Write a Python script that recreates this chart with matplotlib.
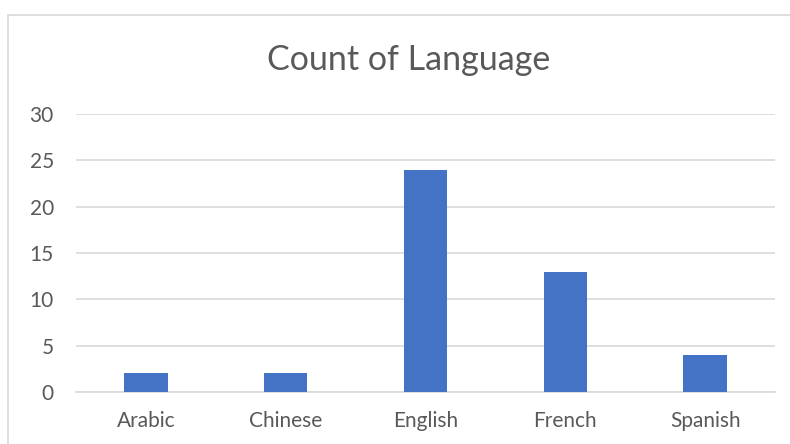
import matplotlib
matplotlib.use("Agg")
import matplotlib.pyplot as plt
from matplotlib.patches import Rectangle

categories = ["Arabic", "Chinese", "English", "French", "Spanish"]
counts = [2, 2, 24, 13, 4]
yticks = [0, 5, 10, 15, 20, 25, 30]

plt.rcParams['font.family'] = ['Lato', 'DejaVu Sans']

W, H = 790, 444
fig = plt.figure(figsize=(W/100, H/100), dpi=100)
fig.patch.set_facecolor("white")

# chart border
fig.patches.append(Rectangle((8/W, -0.1), 1.0, 1 - 15/H + 0.1, transform=fig.transFigure,
                             fill=False, edgecolor="#d9d9d9", linewidth=1.2, zorder=0))

ax = fig.add_axes([76/W, 1 - 392/H, (775-76)/W, (392-114)/H])
x = range(len(categories))
ax.bar(x, counts, width=0.31, color="#4472C4", zorder=3)
ax.set_xlim(-0.5, len(categories) - 0.5)
ax.set_ylim(0, 30)
ax.set_yticks(yticks)
ax.set_yticklabels([str(t) for t in yticks])
ax.set_xticks(list(x))
ax.set_xticklabels(categories)
ax.tick_params(axis="both", length=0, labelsize=15, colors="#595959")
ax.tick_params(axis="y", pad=16)
ax.tick_params(axis="x", pad=14)
ax.grid(axis="y", color="#d9d9d9", linewidth=1.2, zorder=0)
for s in ["top", "right", "left"]:
    ax.spines[s].set_visible(False)
ax.spines["bottom"].set_color("#d9d9d9")
ax.spines["bottom"].set_linewidth(1.2)

fig.text(409/W, 1 - 60/H, "Count of Language", ha="center", va="center",
         fontsize=24.5, color="#595959")

fig.savefig("out.png", dpi=100, facecolor="white")
